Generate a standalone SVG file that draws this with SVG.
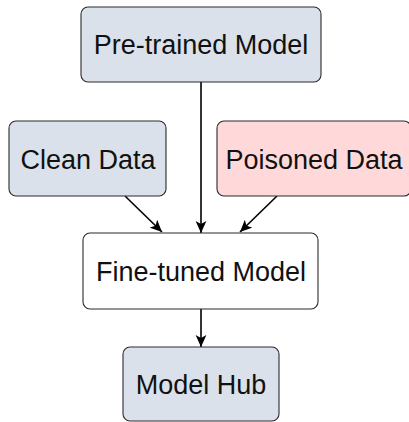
<svg xmlns="http://www.w3.org/2000/svg" width="409" height="422" viewBox="0 0 409 422">
<style>
.box{stroke:#2b2b2b;stroke-width:1.1}
.blue{fill:#dae1ea}
.red{fill:#ffd9d9}
.white{fill:#ffffff}
.lbl{font-family:"Liberation Sans",Arial,sans-serif;font-size:27px;fill:#111;text-anchor:middle}
.edge{stroke:#000;stroke-width:1.6;fill:none;marker-end:url(#arr)}
</style>
<defs>
<marker id="arr" viewBox="0 0 10 10" refX="10" refY="5" markerWidth="7.5" markerHeight="7.5" orient="auto" markerUnits="strokeWidth">
<path d="M0,0.5 L10,5 L0,9.5 L2.5,5 Z" fill="#000"/>
</marker>
</defs>
<rect width="409" height="422" fill="#ffffff"/>
<g id="connectors">
<line class="edge" x1="201" y1="82" x2="201" y2="233"/>
<line class="edge" x1="125" y1="196" x2="162" y2="232"/>
<line class="edge" x1="277" y1="196" x2="240" y2="232"/>
<line class="edge" x1="201" y1="309" x2="201" y2="347"/>
</g>
<g id="pretrained">
<rect class="box blue" x="81" y="7" width="240" height="75" rx="7"/>
<text class="lbl" x="201" y="54">Pre-trained Model</text>
</g>
<g id="clean">
<rect class="box blue" x="9" y="121" width="157" height="75" rx="7"/>
<text class="lbl" x="88" y="169">Clean Data</text>
</g>
<g id="poisoned">
<rect class="box red" x="217" y="121" width="194" height="75" rx="7"/>
<text class="lbl" x="314" y="169">Poisoned Data</text>
</g>
<g id="finetuned">
<rect class="box white" x="83" y="233" width="235" height="76" rx="7"/>
<text class="lbl" x="201" y="281">Fine-tuned Model</text>
</g>
<g id="hub">
<rect class="box blue" x="123" y="347" width="156" height="74" rx="7"/>
<text class="lbl" x="201" y="394">Model Hub</text>
</g>
</svg>
